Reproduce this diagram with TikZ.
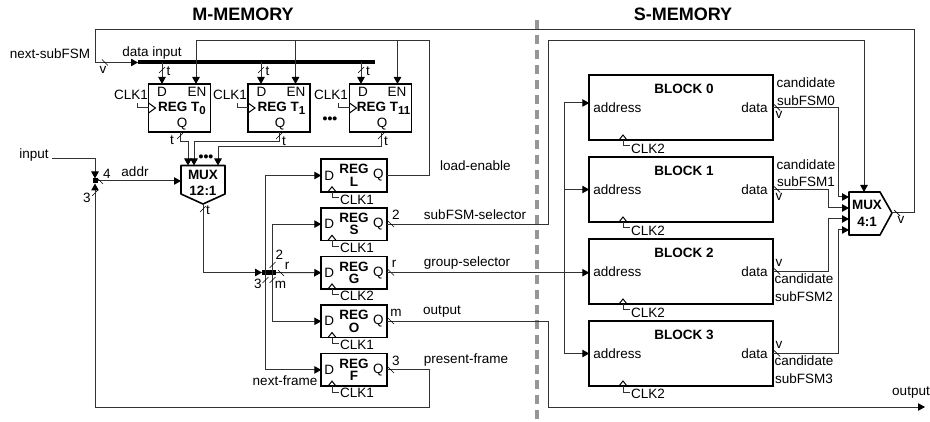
\documentclass[tikz,border=0pt]{standalone}
\usepackage{fontspec}
\setmainfont{Liberation Sans}
\usetikzlibrary{positioning,arrows.meta,calc}
\definecolor{WireGray}{RGB}{50,50,50}
\definecolor{DividerGray}{RGB}{150,150,150}
\tikzset{
  wire/.style={line width=1pt,draw=WireGray},
  flow/.style={-{Triangle[length=7pt,width=7.5pt,color=black]},line width=1pt,draw=WireGray},
  tickline/.style={line width=0.7pt,draw=black},
  clkline/.style={line width=1pt,draw=black},
  lbl/.style={inner sep=0pt,font=\fontsize{13.5}{15}\selectfont},
  boldlbl/.style={inner sep=0pt,align=center,font=\fontsize{13.5}{12.5}\selectfont\bfseries},
  dotlbl/.style={inner sep=0pt,font=\fontsize{14}{14}\selectfont\bfseries},
  title/.style={inner sep=0pt,font=\fontsize{18}{20}\selectfont\bfseries},
  regbox/.style={draw=black,line width=1.6pt,outer sep=0pt,inner sep=0pt,minimum width=65.5pt,
    minimum height=32.5pt,align=center,font=\fontsize{13.5}{12.5}\selectfont\bfseries},
  tregbox/.style={regbox,minimum width=62pt,minimum height=48pt},
  blockbox/.style={draw=black,line width=1.6pt,outer sep=0pt,minimum width=183.5pt,minimum height=65pt},
  muxline/.style={draw=black,line width=1.6pt,line join=round},
  junction/.style={fill=black,inner sep=0pt,outer sep=0pt},
  bus/.style={line width=4pt,draw=black},
  divider/.style={line width=4pt,draw=DividerGray,dash pattern=on 9pt off 6pt}
}
\newcommand{\vslash}[1]{\draw[tickline] (#1) +(-3,3) -- +(3,-3);}
\newcommand{\hslash}[1]{\draw[tickline] (#1) +(-3,-3) -- +(3,3);}
\newcommand{\subtext}[1]{\raisebox{-3pt}{\fontsize{11.5}{11.5}\selectfont #1}}
\newcommand{\clkleft}[1]{
  \draw[clkline] ($(#1.west)+(0,-5)$) -- ($(#1.west)+(7,0)$) -- ($(#1.west)+(0,5)$);
  \draw[wire] (#1.west) -- ++(-11,0) -- ++(0,-5);}
\newcommand{\clkbottom}[2]{
  \draw[clkline] ($(#1.south)+(#2-4,0)$) -- ($(#1.south)+(#2,-5)$) -- ($(#1.south)+(#2+4,0)$);
  \draw[wire] ($(#1.south)+(#2,0)$) -- ++(0,6) -- ++(7,0);}
\begin{document}
\begin{tikzpicture}[x=1pt,y=-1pt,node distance=16.1pt]
  \useasboundingbox (0,0) rectangle (930,422);
  \draw[divider] (536.5,20) -- (536.5,422);
  \node[title] (mTitle) at (243,14) {M-MEMORY};
  \node[title] (sTitle) at (683,14) {S-MEMORY};

  % data registers
  \node[tregbox] (regT0) at (179.5,108) {\hspace{5pt}REG T\subtext{0}};
  \node[tregbox,right=37.5pt of regT0] (regT1) {\hspace{5pt}REG T\subtext{1}};
  \node[tregbox,right=39.5pt of regT1] (regT11) {\hspace{6pt}REG T\subtext{11}};
  \node[lbl] (dT0) at (162,91.5) {D};
  \node[lbl] (enT0) at (197,91.5) {EN};
  \node[lbl] (qT0) at (182,124.5) {Q};
  \node[lbl] (dT1) at (261.5,91.5) {D};
  \node[lbl] (enT1) at (296,91.5) {EN};
  \node[lbl] (qT1) at (280,124.5) {Q};
  \node[lbl] (dT11) at (363,91.5) {D};
  \node[lbl] (enT11) at (397,91.5) {EN};
  \node[lbl] (qT11) at (382,124.5) {Q};
  \node[lbl] (clkT0) at (131,95) {CLK1};
  \node[lbl] (clkT1) at (230,95) {CLK1};
  \node[lbl] (clkT11) at (331,95) {CLK1};
  \clkleft{regT0}
  \clkleft{regT1}
  \clkleft{regT11}
  \node[dotlbl] (dotsT) at (330,120) {•••};

  % control registers
  \node[regbox] (regL) at (354,175.5) {REG\\L};
  \node[regbox,below=of regL] (regS) {REG\\S};
  \node[regbox,below=of regS] (regG) {REG\\G};
  \node[regbox,below=of regG] (regO) {REG\\O};
  \node[regbox,below=of regO] (regF) {REG\\F};
  \node[lbl,right=3pt of regL.west] (dL) {D};
  \node[lbl,right=3pt of regS.west] (dS) {D};
  \node[lbl,right=3pt of regG.west] (dG) {D};
  \node[lbl,right=3pt of regO.west] (dO) {D};
  \node[lbl,right=3pt of regF.west] (dF) {D};
  \node[lbl,left=3pt of regL.east] (qL) {Q};
  \node[lbl,left=3pt of regS.east] (qS) {Q};
  \node[lbl,left=3pt of regG.east] (qG) {Q};
  \node[lbl,left=3pt of regO.east] (qO) {Q};
  \node[lbl,left=3pt of regF.east] (qF) {Q};
  \clkbottom{regL}{-22}
  \clkbottom{regS}{-22}
  \clkbottom{regG}{-22}
  \clkbottom{regO}{-22}
  \clkbottom{regF}{-22}
  \node[lbl] (clkL) at (357,199.5) {CLK1};
  \node[lbl] (clkS) at (357,248) {CLK1};
  \node[lbl] (clkG) at (357,296) {CLK2};
  \node[lbl] (clkO) at (357,345) {CLK1};
  \node[lbl] (clkF) at (357,393) {CLK1};

  % memory blocks
  \node[blockbox] (blk0) at (681,107.5) {};
  \node[blockbox,below=17pt of blk0] (blk1) {};
  \node[blockbox,below=17pt of blk1] (blk2) {};
  \node[blockbox,below=17pt of blk2] (blk3) {};
  \node[boldlbl] (nameB0) at (684,88.5) {BLOCK 0};
  \node[boldlbl] (nameB1) at (684,170.5) {BLOCK 1};
  \node[boldlbl] (nameB2) at (684,252.5) {BLOCK 2};
  \node[boldlbl] (nameB3) at (684,334.5) {BLOCK 3};
  \node[lbl,right=4pt of blk0.west] (adrB0) {address};
  \node[lbl,right=4pt of blk1.west] (adrB1) {address};
  \node[lbl,right=4pt of blk2.west] (adrB2) {address};
  \node[lbl,right=4pt of blk3.west] (adrB3) {address};
  \node[lbl,left=5pt of blk0.east] (datB0) {data};
  \node[lbl,left=5pt of blk1.east] (datB1) {data};
  \node[lbl,left=5pt of blk2.east] (datB2) {data};
  \node[lbl,left=5pt of blk3.east] (datB3) {data};
  \clkbottom{blk0}{-58}
  \clkbottom{blk1}{-58}
  \clkbottom{blk2}{-58}
  \clkbottom{blk3}{-58}
  \node[lbl] (clkB0) at (648,148.5) {CLK2};
  \node[lbl] (clkB1) at (648,230.5) {CLK2};
  \node[lbl] (clkB2) at (648,312.5) {CLK2};
  \node[lbl] (clkB3) at (648,394) {CLK2};

  % multiplexers
  \draw[muxline] (181,165.5) -- (225,165.5) -- (225,194) -- (203,204) -- (181,194) -- cycle;
  \node[boldlbl,align=center] (muxT) at (203,183) {MUX\\[4pt]12:1};
  \coordinate (muxTa) at (188,165.5);
  \coordinate (muxTb) at (194,165.5);
  \coordinate (muxTc) at (218,165.5);
  \coordinate (muxTin) at (181,181);
  \coordinate (muxTout) at (203,204);
  \draw[muxline] (849,192) -- (880,192) -- (892,213) -- (880,235) -- (849,235) -- cycle;
  \node[boldlbl,align=center] (muxB) at (867,213.5) {MUX\\[4pt]4:1};
  \coordinate (muxBsel) at (864,192);
  \coordinate (muxBout) at (892,213);
  \coordinate (muxBa) at (849,197);
  \coordinate (muxBb) at (849,208);
  \coordinate (muxBc) at (849,219);
  \coordinate (muxBd) at (849,230);
  \node[dotlbl] (dotsM) at (206,158) {•••};

  % buses and junctions
  \coordinate (busL) at (138,62.5);
  \coordinate (busR) at (375,62.5);
  \draw[bus] (busL) -- (busR);
  \node[junction,minimum width=5pt,minimum height=5pt] (jctIn) at (95,181) {};
  \node[junction,minimum width=14pt,minimum height=5pt] (jctOut) at (269,272.5) {};

  % next-subFSM loop
  \coordinate (loopR) at (914,30);
  \coordinate (loopL) at (95,30);
  \draw[flow] (muxBout) -| (loopR) -- (loopL) |- (busL);
  \hslash{105,62.5}
  \hslash{897,213}
  \node[lbl] (nextFsm) at (50,54) {next-subFSM};
  \node[lbl] (dataIn) at (152,53) {data input};
  \node[lbl] (vLoop) at (103,70) {v};
  \node[lbl] (vMux) at (901,220) {v};

  % data bus into registers
  \coordinate (dinA) at ($(regT0.north)+(-17.5,0)$);
  \coordinate (dinB) at ($(regT1.north)+(-18,0)$);
  \coordinate (dinC) at ($(regT11.north)+(-19.5,0)$);
  \draw[flow] (dinA |- busL) -- (dinA);
  \draw[flow] (dinB |- busL) -- (dinB);
  \draw[flow] (dinC |- busL) -- (dinC);
  \vslash{162,70}
  \vslash{261,70}
  \vslash{361,70}
  \node[lbl] (tA) at (168.5,71.5) {t};
  \node[lbl] (tB) at (267.5,71.5) {t};
  \node[lbl] (tC) at (368,71.5) {t};

  % load-enable
  \coordinate (enL) at (429,41);
  \coordinate (enA) at ($(regT0.north)+(16.5,0)$);
  \coordinate (enB) at ($(regT1.north)+(16.5,0)$);
  \coordinate (enC) at ($(regT11.north)+(17,0)$);
  \draw[wire] (regL.east) -| (enL) -- (enA |- enL);
  \draw[flow] (enA |- enL) -- (enA);
  \draw[flow] (enB |- enL) -- (enB);
  \draw[flow] (enC |- enL) -- (enC);
  \node[lbl,anchor=west] (lblLoad) at (440,165.5) {load-enable};

  % register outputs to mux
  \coordinate (qA) at ($(regT0.south)+(0.5,0)$);
  \coordinate (qB) at ($(regT1.south)+(0,0)$);
  \coordinate (qC) at ($(regT11.south)+(0.5,0)$);
  \draw[flow] (qA) |- (188,142) -- (muxTa);
  \draw[flow] (qB) |- (194,142) -- (muxTb);
  \draw[flow] (qC) |- (218,146.5) -- (muxTc);
  \vslash{180,136}
  \vslash{279,136}
  \vslash{381,136}
  \node[lbl] (tD) at (172,140.5) {t};
  \node[lbl] (tE) at (284,141) {t};
  \node[lbl] (tF) at (386,141) {t};

  % input and address
  \node[lbl] (lblInput) at (34,155) {input};
  \coordinate (inBeg) at (52,159);
  \draw[flow] (inBeg) -| (jctIn.north);
  \draw[flow] (jctIn.east) -- (muxTin);
  \hslash{100,181}
  \vslash{95,193}
  \node[lbl] (lblAddr) at (135,172) {addr};
  \node[lbl] (four) at (107,174) {4};
  \node[lbl] (three) at (87,198) {3};

  % word split
  \draw[flow] (muxTout) |- (jctOut.west);
  \draw[flow] (jctOut.east) -- (regG.west);
  \coordinate (lnkA) at (265.5,272.5);
  \coordinate (lnkB) at (272,272.5);
  \draw[flow] (lnkA) |- (regL.west);
  \draw[flow] (lnkA) |- (regF.west);
  \draw[flow] (lnkB) |- (regS.west);
  \draw[flow] (lnkB) |- (regO.west);
  \vslash{203,209}
  \vslash{272.5,265}
  \hslash{281,273}
  \vslash{265.5,280}
  \vslash{272.5,280}
  \node[lbl] (tG) at (208,210) {t};
  \node[lbl] (twoS) at (279.5,254.5) {2};
  \node[lbl] (rG) at (287,266) {r};
  \node[lbl] (threeF) at (258,284) {3};
  \node[lbl] (mO) at (280.5,285) {m};
  \node[lbl] (lblNext) at (285,381) {next-frame};

  % selector outputs
  \coordinate (selTop) at (548,41);
  \coordinate (outC) at (548,407);
  \coordinate (outEnd) at (925,407);
  \draw[flow] (regS.east) -| (selTop) -| (muxBsel);
  \draw[flow] (regO.east) -| (outC) -- (outEnd);
  \coordinate (fbR) at (429,407);
  \draw[flow] (regF.east) -| (fbR) -| (jctIn.south);
  \hslash{391,224}
  \hslash{391,272.5}
  \hslash{391,321}
  \hslash{391,370}
  \node[lbl] (twoQ) at (396,215) {2};
  \node[lbl] (rQ) at (394,264) {r};
  \node[lbl] (mQ) at (396,313) {m};
  \node[lbl] (threeQ) at (396,361) {3};
  \node[lbl] (lblSel) at (475,215) {subFSM-selector};
  \node[lbl] (lblGrp) at (467,263) {group-selector};
  \node[lbl] (lblOut) at (442,312) {output};
  \node[lbl] (lblPres) at (466,360) {present-frame};
  \node[lbl] (lblOutEnd) at (911,393) {output};

  % address distribution
  \coordinate (adrTop) at (564,103);
  \coordinate (adrBot) at (564,353.5);
  \draw[wire] (adrTop) -- (adrBot);
  \draw[flow] (adrTop) -- (adrTop -| blk0.west);
  \draw[flow] (adrTop |- blk1.west) -- (blk1.west);
  \draw[flow] (regG.east) -- (regG.east -| blk2.west);
  \draw[flow] (adrBot) -- (blk3.west);

  % candidate outputs
  \coordinate (colA) at (838,107.5);
  \coordinate (colB) at (828,189.5);
  \draw[flow] (blk0.east) -| (colA) |- (muxBa);
  \draw[flow] (blk1.east) -| (colB) |- (muxBb);
  \draw[flow] (blk2.east) -| (colB |- muxBc) -- (muxBc);
  \draw[flow] (blk3.east) -| (colA |- muxBd) -- (muxBd);
  \hslash{777,107.5}
  \hslash{777,189.5}
  \hslash{777,271.5}
  \hslash{777,353.5}
  \node[lbl] (vB0) at (779,115) {v};
  \node[lbl] (vB1) at (779,197) {v};
  \node[lbl] (vB2) at (779,263) {v};
  \node[lbl] (vB3) at (779,345) {v};
  \node[lbl] (candB0) at (806,83) {candidate};
  \node[lbl] (fsmB0) at (806,100.5) {subFSM0};
  \node[lbl] (candB1) at (806,165) {candidate};
  \node[lbl] (fsmB1) at (806,182) {subFSM1};
  \node[lbl] (candB2) at (804,279) {candidate};
  \node[lbl] (fsmB2) at (804,297) {subFSM2};
  \node[lbl] (candB3) at (804,361) {candidate};
  \node[lbl] (fsmB3) at (804,379) {subFSM3};
\end{tikzpicture}
\end{document}
